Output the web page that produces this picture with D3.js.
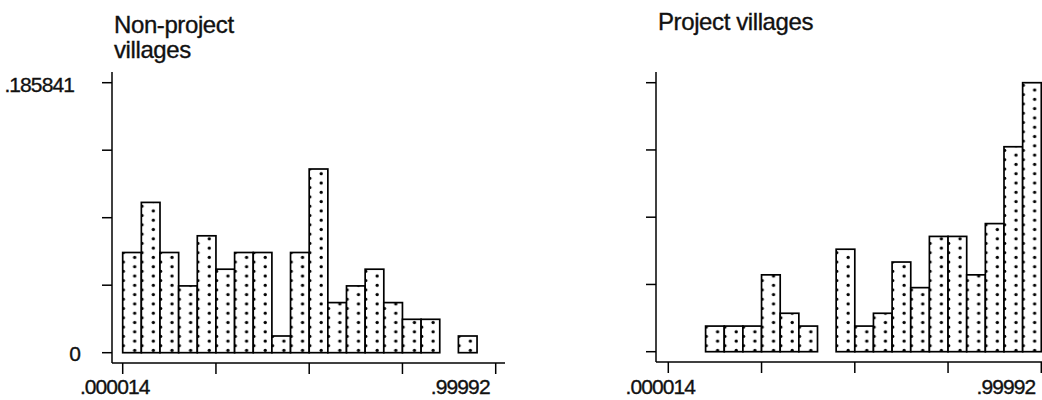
<!DOCTYPE html>
<html>
<head>
<meta charset="utf-8">
<script src="https://cdn.jsdelivr.net/npm/d3@7"></script>
<style>
  body { margin: 0; background: #fff; }
  text { font-family: "Liberation Sans", Arial, sans-serif; fill: #111; stroke: #111; stroke-width: 0.35; }
</style>
</head>
<body>
<script>
// histogram settings
var xMin = 0.000014, xMax = 0.99992;
var nBins = 20;
var yMax = 0.185841;

// counts per bin (fraction = count / total)
var nonProjectCounts = [6, 9, 6, 4, 7, 5, 6, 6, 1, 6, 11, 3, 4, 5, 3, 2, 2, 0, 1, 0];
var projectCounts    = [0, 0, 2, 2, 2, 6, 3, 2, 0, 8, 2, 3, 7, 5, 9, 9, 6, 10, 16, 21];

var xTickLabels = ['.000014', '.99992'];
var yTickLabels = ['0', '.185841'];
var nonProjectTitle = ['Non-project', 'villages'];
var projectTitle = ['Project villages'];

var svg = d3.select('body').append('svg')
  .attr('width', 1042).attr('height', 400);
var defs = svg.append('defs');

var binW = (xMax - xMin) / nBins;
var xTickVals = d3.range(5).map(function(i){ return xMin + i * (xMax - xMin) / 4; });
var yTickVals = d3.range(5).map(function(i){ return i * yMax / 4; });

// draw one panel
var drawPanel = function(cfg){
  var g = svg.append('g');
  var x = d3.scaleLinear().domain([xMin, xMax]).range([cfg.x0, cfg.x1]);
  var y = d3.scaleLinear().domain([0, yMax]).range([cfg.base, 82.7]);
  var total = d3.sum(cfg.counts);
  var bw = x(xMin + binW) - x(xMin);

  // dotted fill, lined up with the bins
  var pat = defs.append('pattern')
    .attr('id', cfg.id)
    .attr('patternUnits', 'userSpaceOnUse')
    .attr('x', cfg.x0).attr('y', 4)
    .attr('width', bw).attr('height', 9.3);
  pat.append('rect').attr('width', bw).attr('height', 9.3).attr('fill', '#fff');
  pat.append('circle').attr('cx', 12).attr('cy', 2.3).attr('r', 1.7).attr('fill', '#000');
  pat.append('circle').attr('cx', 0.8).attr('cy', 6.95).attr('r', 1.5).attr('fill', '#000');

  var bins = cfg.counts.map(function(c, i){ return {i: i, v: c / total}; })
    .filter(function(d){ return d.v > 0; });

  g.selectAll('rect.bar')
    .data(bins)
    .enter()
    .append('rect')
    .attr('class', 'bar')
    .attr('x', function(d){ return x(xMin + d.i * binW); })
    .attr('y', function(d){ return y(d.v); })
    .attr('width', bw)
    .attr('height', function(d){ return y(0) - y(d.v); })
    .attr('fill', 'url(#' + cfg.id + ')')
    .attr('stroke', '#000')
    .attr('stroke-width', 1.7);

  // y axis
  g.append('line')
    .attr('x1', cfg.yAxisX).attr('x2', cfg.yAxisX)
    .attr('y1', 72).attr('y2', cfg.xAxisY)
    .attr('stroke', '#000').attr('stroke-width', 1.5);
  g.selectAll('line.ytick')
    .data(yTickVals)
    .enter()
    .append('line')
    .attr('class', 'ytick')
    .attr('x1', cfg.yAxisX - 10).attr('x2', cfg.yAxisX)
    .attr('y1', function(d){ return y(d); })
    .attr('y2', function(d){ return y(d); })
    .attr('stroke', '#000').attr('stroke-width', 1.5);

  // x axis
  g.append('line')
    .attr('x1', cfg.yAxisX).attr('x2', cfg.xAxisEnd)
    .attr('y1', cfg.xAxisY).attr('y2', cfg.xAxisY)
    .attr('stroke', '#000').attr('stroke-width', 1.5);
  g.selectAll('line.xtick')
    .data(xTickVals)
    .enter()
    .append('line')
    .attr('class', 'xtick')
    .attr('x1', function(d){ return x(d); })
    .attr('x2', function(d){ return x(d); })
    .attr('y1', cfg.xAxisY).attr('y2', cfg.xAxisY + 11)
    .attr('stroke', '#000').attr('stroke-width', 1.5);

  g.append('text')
    .attr('x', x(xMin) - 8).attr('y', 394)
    .attr('text-anchor', 'middle')
    .attr('font-size', 21).attr('letter-spacing', -0.9)
    .text(xTickLabels[0]);
  g.append('text')
    .attr('x', x(xMax) - 6).attr('y', 394)
    .attr('text-anchor', 'end')
    .attr('font-size', 21).attr('letter-spacing', -0.9)
    .text(xTickLabels[1]);

  if (cfg.yLabels) {
    g.append('text')
      .attr('x', 81).attr('y', y(0) + 8)
      .attr('text-anchor', 'end')
      .attr('font-size', 21)
      .text(yTickLabels[0]);
    g.append('text')
      .attr('x', 74).attr('y', y(yMax) + 9)
      .attr('text-anchor', 'end')
      .attr('font-size', 21).attr('letter-spacing', -0.9)
      .text(yTickLabels[1]);
  }

  g.selectAll('text.title')
    .data(cfg.title)
    .enter()
    .append('text')
    .attr('class', 'title')
    .attr('x', cfg.titleX)
    .attr('y', function(d, i){ return cfg.titleY + i * 25; })
    .attr('font-size', 24).attr('letter-spacing', -0.4)
    .text(function(d){ return d; });
};

drawPanel({
  id: 'dotsL', counts: nonProjectCounts, title: nonProjectTitle,
  x0: 122.7, x1: 495.7, base: 352.7, yAxisX: 112, xAxisY: 363, xAxisEnd: 505,
  titleX: 114, titleY: 33, yLabels: true
});
drawPanel({
  id: 'dotsR', counts: projectCounts, title: projectTitle,
  x0: 668.3, x1: 1041.3, base: 351.7, yAxisX: 656, xAxisY: 362, xAxisEnd: 1042,
  titleX: 658, titleY: 30, yLabels: false
});
</script>
</body>
</html>
